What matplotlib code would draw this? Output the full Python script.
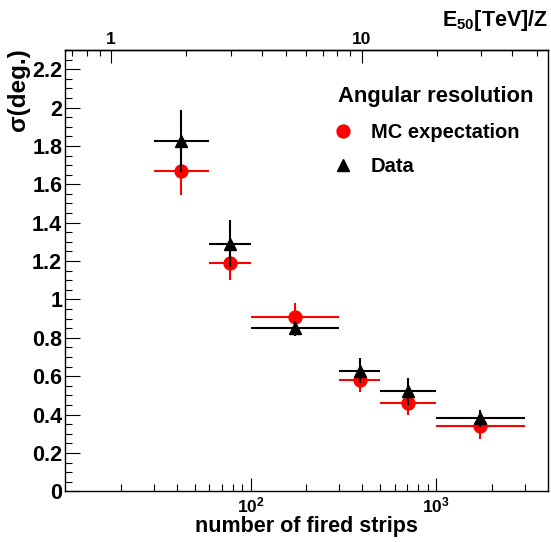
import numpy as np
import matplotlib
matplotlib.use("Agg")
import matplotlib.pyplot as plt
from matplotlib.lines import Line2D
from matplotlib.ticker import FixedLocator, NullFormatter, FuncFormatter

plt.rcParams['font.family'] = ['Liberation Sans', 'DejaVu Sans']
plt.rcParams['font.weight'] = 'bold'
plt.rcParams['mathtext.fontset'] = 'custom'
plt.rcParams['mathtext.rm'] = 'Liberation Sans:bold'
plt.rcParams['mathtext.it'] = 'Liberation Sans:bold'
plt.rcParams['mathtext.bf'] = 'Liberation Sans:bold'

# ---- data ----
strip_center = [42.4, 77.5, 173, 387, 707, 1732]
strip_lo = [30, 60, 100, 300, 500, 1000]
strip_hi = [60, 100, 300, 500, 1000, 3000]
mc_sigma = [1.67, 1.19, 0.91, 0.58, 0.46, 0.34]
mc_err = [0.125, 0.09, 0.073, 0.06, 0.062, 0.07]
data_sigma = [1.825, 1.29, 0.85, 0.628, 0.521, 0.38]
data_err = [0.163, 0.122, 0.04, 0.065, 0.07, 0.044]

y_major = [0, 0.2, 0.4, 0.6, 0.8, 1, 1.2, 1.4, 1.6, 1.8, 2, 2.2]
x_major = [100, 1000]
x_major_labels = [r'$10^{2}$', r'$10^{3}$']
e_major = [1, 10]
e_major_labels = ['1', '10']

W, H = 551, 542
fig = plt.figure(figsize=(W / 100, H / 100), dpi=100)
L, R, T, B = 65, 547.7, 50, 491.3
ax = fig.add_axes([L / W, 1 - B / H, (R - L) / W, (B - T) / H])

xc = np.array(strip_center, dtype=float)
xerr = [xc - np.array(strip_lo), np.array(strip_hi) - xc]

ax.errorbar(xc, mc_sigma, xerr=xerr, yerr=mc_err, fmt='o', color='#ff0000',
            ms=9.3, elinewidth=1.5, capsize=0, zorder=2)
ax.errorbar(xc, data_sigma, xerr=xerr, yerr=data_err, fmt='^', color='black',
            ms=9, elinewidth=1.5, capsize=0, zorder=3)

ax.set_xscale('log')
ax.set_xlim(10, 4000)
ax.set_ylim(0, 2.3)

# y axis ticks
ax.yaxis.set_major_locator(FixedLocator(y_major))
ax.yaxis.set_major_formatter(FuncFormatter(lambda v, p: f"{v:g}"))
ax.yaxis.set_minor_locator(FixedLocator(np.arange(0, 2.31, 0.05)))
ax.tick_params(axis='y', which='major', direction='in', length=10.5, width=0.8,
               labelsize=15.5, pad=2, right=False)
ax.tick_params(axis='y', which='minor', direction='in', length=5.3, width=0.8,
               right=False)

# bottom x axis ticks
ax.set_xticks(x_major, labels=x_major_labels)
minor_x = [v * d for d in (10, 100, 1000) for v in range(2, 10) if v * d < 4000]
ax.xaxis.set_minor_locator(FixedLocator(minor_x))
ax.xaxis.set_minor_formatter(NullFormatter())
ax.tick_params(axis='x', which='major', direction='in', length=9.5, width=0.8,
               labelsize=12.5, pad=3, top=False)
ax.tick_params(axis='x', which='minor', direction='in', length=5, width=0.8,
               top=False)

for s in ax.spines.values():
    s.set_linewidth(1.0)

# top axis: E50 [TeV]/Z
A0, K = -0.1836, 0.7404

def n_to_e(n):
    n = np.clip(np.asarray(n, dtype=float), 1e-12, None)
    return 10 ** (A0 + K * (np.log10(n) - 1))

def e_to_n(e):
    e = np.clip(np.asarray(e, dtype=float), 1e-12, None)
    return 10 ** (1 + (np.log10(e) - A0) / K)

sec = ax.secondary_xaxis('top', functions=(n_to_e, e_to_n))
sec.set_xticks(e_major, labels=e_major_labels)
minor_e = [0.7, 0.8, 0.9] + list(range(2, 10)) + [20, 30, 40, 50]
sec.xaxis.set_minor_locator(FixedLocator(minor_e))
sec.xaxis.set_minor_formatter(NullFormatter())
sec.tick_params(which='major', direction='in', length=9, width=0.8,
                labelsize=12.5, pad=2)
sec.tick_params(which='minor', direction='in', length=4.5, width=0.8)
sec.spines['top'].set_linewidth(1.0)
sec.set_xlabel(r'E$_{50}$[TeV]/Z', fontsize=15.5, fontweight='bold', loc='right')
sec.xaxis.set_label_coords(1.0, 1.0385, transform=ax.transAxes)
sec.xaxis.label.set_verticalalignment('bottom')

# axis titles
ax.set_xlabel('number of fired strips', fontsize=15.5, fontweight='bold')
ax.xaxis.set_label_coords(0.5, -0.055)
ax.set_ylabel('σ(deg.)', fontsize=17.5, fontweight='bold', loc='top')
ax.yaxis.set_label_coords(-0.072, 1.005)

# legend
fig.text(338 / W, 1 - 101.7 / H, 'Angular resolution', fontsize=15.8,
         fontweight='bold', ha='left', va='baseline')
handles = [Line2D([], [], marker='o', color='#ff0000', ls='none', ms=9.3),
           Line2D([], [], marker='^', color='black', ls='none', ms=9)]
ax.legend(handles, ['MC expectation', 'Data'], loc='upper left',
          bbox_to_anchor=(335.3 / W, 1 - 123.0 / H), bbox_transform=fig.transFigure,
          frameon=False, handlelength=0.8, handletextpad=0.96,
          borderpad=0, borderaxespad=0, labelspacing=0.75,
          prop={'weight': 'bold', 'size': 14.5})

fig.savefig('out.png', dpi=100)
